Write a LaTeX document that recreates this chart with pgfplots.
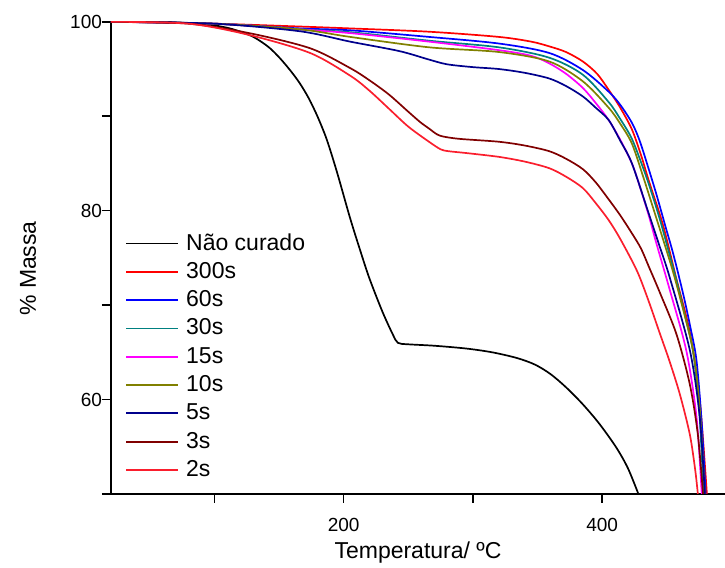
\documentclass[border=0pt]{standalone}
\usepackage{fontspec}
\setmainfont{Liberation Sans}
\usepackage{pgfplots}
\pgfplotsset{compat=1.18}
\usetikzlibrary{calc}
\definecolor{cred}{RGB}{255,0,0}
\definecolor{cblue}{RGB}{0,0,255}
\definecolor{cteal}{RGB}{0,128,128}
\definecolor{cmag}{RGB}{255,0,255}
\definecolor{colive}{RGB}{128,128,0}
\definecolor{cnavy}{RGB}{0,0,140}
\definecolor{cdred}{RGB}{128,0,0}
\definecolor{clred}{RGB}{250,30,45}
\begin{document}
\begin{tikzpicture}
\begin{axis}[
  width=307pt, height=236.1pt, scale only axis,
  xmin=20, xmax=495, ymin=50, ymax=100,
  axis x line=bottom, axis y line=left,
  axis line style={-, line width=0.8pt},
  xtick={200,400}, minor xtick={100,300},
  ytick={60,80,100}, minor ytick={50,70,90},
  tick align=outside, major tick length=4.5pt, minor tick length=4.5pt,
  every tick/.style={line width=0.8pt, black},
  minor tick style={line width=0.8pt, black},
  ticklabel style={font=\fontsize{9.5}{11}\selectfont},
  xticklabel style={yshift=-4pt},
  yticklabel style={xshift=3.5pt},
  /pgf/number format/assume math mode=true,
  xlabel={Temperatura/ ºC}, ylabel={\% Massa},
  label style={font=\fontsize{11.5}{13}\selectfont},
  xlabel style={at={(axis description cs:0.5,-0.125)}, anchor=center},
  ylabel style={at={(axis description cs:-0.135,0.4776)}, anchor=center},
  legend cell align=left,
  legend image code/.code={\draw[#1, line width=0.9pt] (0pt,0pt) -- (26pt,0pt);},
  legend style={draw=none, fill=none, at={(axis description cs:0.013,0.564)}, anchor=north west,
    font=\fontsize{11.5}{13}\selectfont, row sep=2.65pt,
    nodes={inner sep=0pt, text height=9pt, text depth=2.5pt},
    /tikz/every odd column/.append style={column sep=3.5pt}},
  every axis plot/.append style={line width=0.85pt, smooth, tension=0.5},
]
\coordinate (bl) at (rel axis cs:0,0);
\coordinate (tr) at (rel axis cs:1,1);
\addplot[black] table {
20 100
60 100
81 99.85
96 99.7
112 99.3
127 98.6
135 98.0
143 97.2
151 96.1
159 94.8
166 93.5
173 91.9
180 89.9
187 87.5
195 84.0
205 79.2
213 75.7
220 72.8
230 69.3
238 66.9
242 66.0
250 65.85
270 65.7
295 65.4
315 65.0
334 64.4
348 63.7
360 62.7
372 61.3
385 59.5
398 57.4
411 54.9
420 52.7
428 50
};
\addlegendentry{Não curado}
\addplot[cred] table {
20 100
100 99.8
166 99.5
205 99.3
266 98.95
320 98.4
345 97.9
359 97.4
372 96.8
385 95.8
396 94.5
405 92.8
414 90.9
423 88.6
430 85.9
436 83.2
447 78.5
457 73.0
468 67.0
475.5 59.9
481 50
};
\addlegendentry{300s}
\addplot[cblue] table {
20 100
100 99.8
166 99.3
205 99.1
266 98.4
320 97.7
359 96.7
385 94.9
405 92.6
414 91.2
423 89.3
429 87.4
436 84.4
442 81.7
449 78.3
455 75.4
462.6 71.2
468 67.8
473 64.1
477 57.5
480 50
};
\addlegendentry{60s}
\addplot[cteal] table {
20 100
100 99.8
166 99.2
205 98.9
266 98.0
320 97.3
359 96.2
385 94.4
405 91.5
414 89.7
423 87.6
432 84.4
438 82.0
445 78.9
451 75.9
457.5 72.6
464 68.9
470.4 65.0
475 59
478.5 50
};
\addlegendentry{30s}
\addplot[cmag] table {
20 100
100 99.8
166 99.2
205 98.8
266 97.9
320 97.0
345 96.4
359 95.6
372 94.5
385 93.0
395 91.4
405 89.6
414 87.5
423 85.0
429 82.6
436 79.5
442 76.5
452.3 71.6
465.2 65.1
473 58.1
477 50
};
\addlegendentry{15s}
\addplot[colive] table {
20 100
100 99.8
166 99.2
205 98.4
266 97.3
320 96.8
359 95.8
385 93.7
405 90.9
414 89.2
423 87.1
431.7 83.6
438 80.9
447 77.0
454 73.9
460 70.9
470.4 65.1
475.5 59
479.4 50
};
\addlegendentry{10s}
\addplot[cnavy] table {
20 100
100 99.8
166 99.0
205 97.9
243 96.9
266 96.0
280 95.5
300 95.2
320 95.0
340 94.6
359 94.0
372 93.2
385 92.1
395 90.9
405 89.6
414 87.4
423 85.0
436 79.7
444 76.4
452.3 72.9
468 65.1
475.5 58.1
479.4 50
};
\addlegendentry{5s}
\addplot[cdred] table {
20 100
80 99.8
127 98.8
174 97.2
205 95.1
220 93.8
235 92.3
249 90.6
259 89.4
266 88.7
272 88.1
277 87.85
290 87.6
320 87.3
340 86.9
359 86.3
372 85.5
385 84.4
395 83.0
405 81.2
414 79.5
423 77.6
430 76.0
436 74.1
445 71.2
457.5 66.9
467.8 61.6
474 56.3
478 50
};
\addlegendentry{3s}
\addplot[clred] table {
20 100
80 99.8
127 98.6
174 96.7
205 94.3
220 92.7
235 90.8
250 88.9
266 87.3
275 86.5
281 86.3
295 86.1
320 85.7
340 85.2
359 84.5
372 83.6
385 82.4
395 80.8
405 79.0
414 77.0
427 73.6
436 70.4
444.6 67.0
452 64.1
460 60.6
467.8 56.3
472 52.5
474 50
};
\addlegendentry{2s}
\end{axis}
\pgfresetboundingbox
\path[use as bounding box] ($(bl)+(-55.5pt,-37pt)$) rectangle ($(tr)+(0pt,10.9pt)$);
\end{tikzpicture}
\end{document}
